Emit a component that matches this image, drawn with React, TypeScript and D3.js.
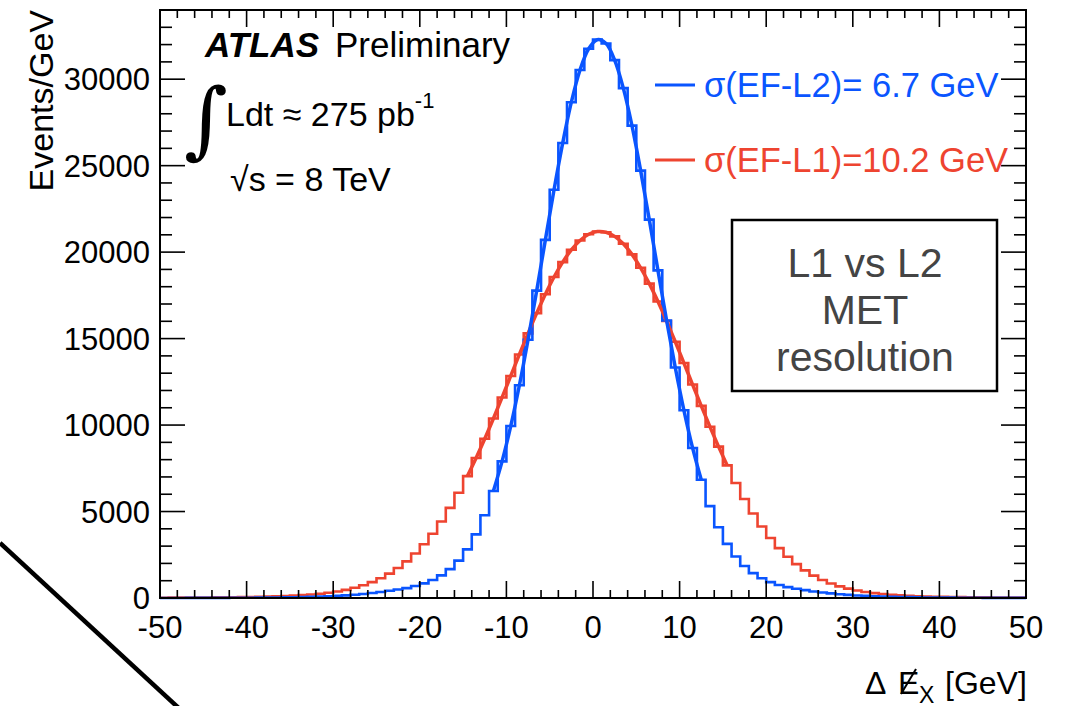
import React from "react";
import * as d3 from "d3";

// Histogram: 100 bins of 1 GeV from -50 to 50 (lower edges -50 .. 49)
const BIN_START = -50;
const BIN_WIDTH = 1;

const blueCounts = [
  3, 4, 4, 5, 6, 7, 8, 10, 12, 14,
  17, 20, 24, 29, 35, 43, 53, 65, 80, 98,
  122, 152, 188, 232, 285, 345, 415, 490, 570, 697,
  844, 1042, 1307, 1669, 2160, 2813, 3678, 4787, 6189, 7901,
  9942, 12303, 14936, 17773, 20707, 23603, 26306, 28670, 30528, 31761,
  32285, 32060, 31102, 29480, 27316, 24714, 21880, 18942, 16050, 13327,
  10852, 8677, 6834, 5312, 4090, 3131, 2399, 1849, 1439, 1138,
  916, 751, 627, 531, 455, 380, 320, 265, 220, 180,
  148, 122, 100, 84, 70, 58, 48, 40, 33, 28,
  23, 19, 16, 13, 11, 9, 8, 7, 6, 5,
];

const redCounts = [
  17, 19, 22, 24, 28, 32, 37, 41, 47, 53,
  61, 70, 82, 96, 114, 136, 165, 201, 246, 305,
  379, 472, 590, 736, 917, 1139, 1408, 1733, 2120, 2575,
  3107, 3719, 4420, 5209, 6085, 7047, 8091, 9206, 10382, 11597,
  12840, 14082, 15302, 16473, 17567, 18559, 19421, 20134, 20675, 21031,
  21191, 21151, 20912, 20480, 19868, 19092, 18176, 17141, 16013, 14819,
  13586, 12341, 11107, 9905, 8752, 7666, 6652, 5725, 4883, 4131,
  3466, 2886, 2383, 1957, 1596, 1294, 1044, 840, 673, 540,
  433, 347, 280, 227, 185, 153, 126, 105, 90, 76,
  66, 57, 50, 44, 39, 35, 30, 26, 23, 21,
];

// fit ranges (GeV)
const blueFitRange = [-12, 13];
const redFitRange = [-15, 16];

const xTickValues = [-50, -40, -30, -20, -10, 0, 10, 20, 30, 40, 50];
const xTickLabels = ["-50", "-40", "-30", "-20", "-10", "0", "10", "20", "30", "40", "50"];
const yTickValues = [0, 5000, 10000, 15000, 20000, 25000, 30000];
const yTickLabels = ["0", "5000", "10000", "15000", "20000", "25000", "30000"];

const legendLabels = ["\u03c3(EF-L2)= 6.7 GeV", "\u03c3(EF-L1)=10.2 GeV"];
const boxLines = ["L1 vs L2", "MET", "resolution"];

const BLUE = "#0a55ff";
const RED = "#ee4430";
const FONT = "'Liberation Sans', Arial, Helvetica, sans-serif";

export default function App() {
  const W = 1069;
  const H = 706;
  const L = 160, R = 1026, T = 10, B = 598;

  const x = d3.scaleLinear().domain([-50, 50]).range([L, R]);
  const y = d3.scaleLinear().domain([0, 34000]).range([B, T]);

  const stepLine = d3
    .line<[number, number]>()
    .x((d) => x(d[0]))
    .y((d) => y(d[1]))
    .curve(d3.curveStepAfter);

  const histPts = (counts: number[]): [number, number][] => {
    const pts: [number, number][] = counts.map((v, i) => [BIN_START + i * BIN_WIDTH, v]);
    pts.push([BIN_START + counts.length * BIN_WIDTH, counts[counts.length - 1]]);
    return pts;
  };

  const fitLine = d3
    .line<[number, number]>()
    .x((d) => x(d[0]))
    .y((d) => y(d[1]))
    .curve(d3.curveCatmullRom.alpha(0.5));

  const fitPts = (counts: number[], range: number[]): [number, number][] =>
    counts
      .map((v, i) => [BIN_START + (i + 0.5) * BIN_WIDTH, v] as [number, number])
      .filter((p) => p[0] >= range[0] && p[0] <= range[1]);

  const xMajor = d3.range(-50, 50.001, 10);
  const xMinor = d3.range(-50, 50.001, 2);
  const yMajor = d3.range(0, 34001, 5000);
  const yMinor = d3.range(0, 34001, 1000);

  const ticks: JSX.Element[] = [];
  xMinor.forEach((v, i) => {
    const isMajor = xMajor.some((m) => Math.abs(m - v) < 1e-6);
    const len = isMajor ? 17 : 8;
    ticks.push(<line key={"xb" + i} x1={x(v)} x2={x(v)} y1={B} y2={B - len} />);
    ticks.push(<line key={"xt" + i} x1={x(v)} x2={x(v)} y1={T} y2={T + len} />);
  });
  yMinor.forEach((v, i) => {
    const isMajor = yMajor.includes(v);
    const len = isMajor ? 25 : 12;
    ticks.push(<line key={"yl" + i} x1={L} x2={L + len} y1={y(v)} y2={y(v)} />);
    ticks.push(<line key={"yr" + i} x1={R} x2={R - len} y1={y(v)} y2={y(v)} />);
  });

  return (
    <svg
      width={W}
      height={H}
      style={{ position: "absolute", left: 0, top: 0, background: "#fff" }}
      fontFamily={FONT}
    >
      <rect x={0} y={0} width={W} height={H} fill="#fff" />
      {/* diagonal decoration line */}
      <line x1={0} y1={543} x2={183} y2={712} stroke="#000" strokeWidth={4.5} />

      {/* histograms */}
      <path d={stepLine(histPts(redCounts)) || ""} fill="none" stroke={RED} strokeWidth={2.6} />
      <path d={stepLine(histPts(blueCounts)) || ""} fill="none" stroke={BLUE} strokeWidth={2.6} />
      {/* fits */}
      <path d={fitLine(fitPts(redCounts, redFitRange)) || ""} fill="none" stroke={RED} strokeWidth={3.5} />
      <path d={fitLine(fitPts(blueCounts, blueFitRange)) || ""} fill="none" stroke={BLUE} strokeWidth={3.5} />

      {/* frame and ticks */}
      <g stroke="#000" strokeWidth={1.6}>{ticks}</g>
      <rect x={L} y={T} width={R - L} height={B - T} fill="none" stroke="#000" strokeWidth={2} />

      {/* tick labels */}
      <g fontSize={31} fill="#000">
        {xTickValues.map((v, i) => (
          <text key={"xl" + i} x={x(v)} y={638} textAnchor="middle">
            {xTickLabels[i]}
          </text>
        ))}
        {yTickValues.map((v, i) => (
          <text key={"yl" + i} x={150} y={y(v) + 11} textAnchor="end">
            {yTickLabels[i]}
          </text>
        ))}
      </g>

      {/* axis titles */}
      <text
        transform="translate(53,10) rotate(-90)"
        textAnchor="end"
        fontSize={34}
        fill="#000"
      >
        Events/GeV
      </text>
      <g fontSize={32} fill="#000">
        <text x={865} y={694}>{"\u0394"}</text>
        <text x={898} y={694}>E</text>
        <text x={919} y={703} fontSize={23}>X</text>
        <text x={945} y={694}>[GeV]</text>
      </g>
      <line x1={901} y1={694} x2={916} y2={669} stroke="#000" strokeWidth={2} />

      {/* ATLAS labels */}
      <text x={205} y={57} fontSize={35} fontWeight="bold" fontStyle="italic" fill="#000">
        ATLAS
      </text>
      <text x={335} y={57} fontSize={35} fill="#000">
        Preliminary
      </text>
      <text x={184} y={148} fontSize={84} fill="#000" fontFamily="'DejaVu Serif', serif">
        {"\u222b"}
      </text>
      <text x={226} y={126} fontSize={34} fill="#000">
        Ldt {"\u2248"} 275 pb
        <tspan dy={-18} fontSize={22}>-1</tspan>
      </text>
      <text x={230} y={191} fontSize={34} fill="#000">
        {"\u221a"}s = 8 TeV
      </text>

      {/* legend */}
      <line x1={655} x2={695} y1={85} y2={85} stroke={BLUE} strokeWidth={3} />
      <text x={704} y={97} fontSize={34.5} fill={BLUE}>
        {legendLabels[0]}
      </text>
      <line x1={655} x2={695} y1={160} y2={160} stroke={RED} strokeWidth={3} />
      <text x={704} y={172} fontSize={34.5} fill={RED}>
        {legendLabels[1]}
      </text>

      {/* annotation box */}
      <rect x={732} y={220} width={265} height={171} fill="#fff" stroke="#000" strokeWidth={2.5} />
      <g fontSize={41} fill="#444" textAnchor="middle">
        {boxLines.map((s, i) => (
          <text key={"b" + i} x={865} y={277 + i * 47}>
            {s}
          </text>
        ))}
      </g>
    </svg>
  );
}
